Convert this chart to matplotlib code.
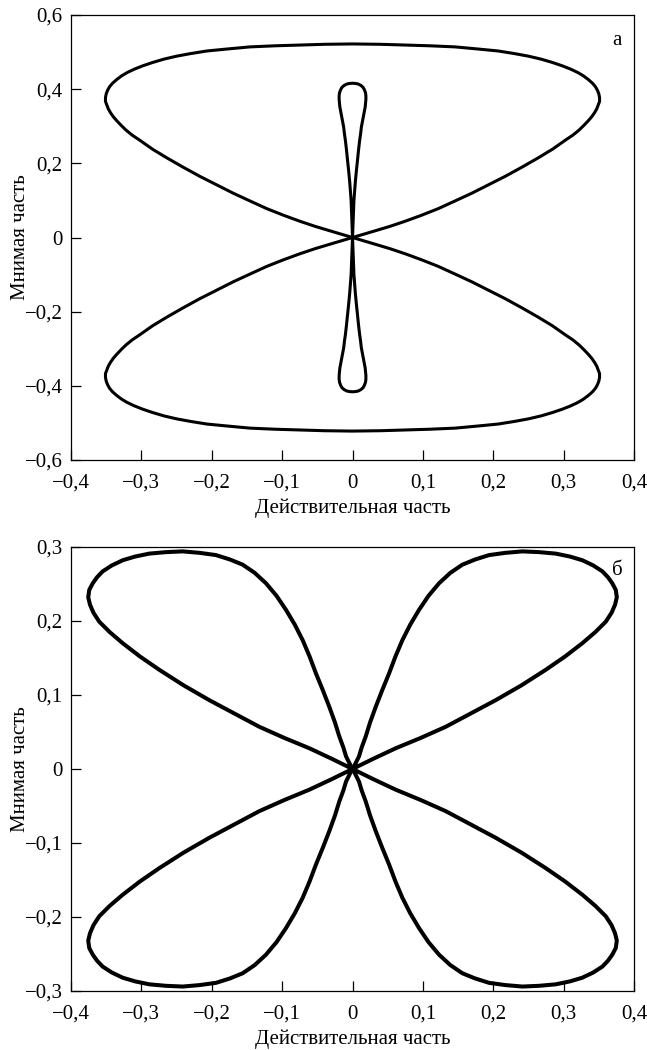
import numpy as np
import matplotlib
matplotlib.use("Agg")
import matplotlib.pyplot as plt

plt.rcParams['font.family'] = ['Liberation Serif', 'DejaVu Serif']
plt.rcParams['font.size'] = 15

# ---- panel a: outer loop, upper-right quarter (origin -> right tip -> top at x=0)
a_outer_x = [0.0, 0.016, 0.032, 0.053, 0.075, 0.098, 0.122, 0.145, 0.169, 0.193,
             0.217, 0.241, 0.264, 0.284, 0.302, 0.313, 0.322, 0.329, 0.335, 0.340,
             0.344, 0.347, 0.349, 0.351, 0.351, 0.350, 0.348, 0.345, 0.341, 0.335,
             0.328, 0.320, 0.310, 0.298, 0.284, 0.268, 0.250, 0.230, 0.207, 0.180,
             0.146, 0.110, 0.075, 0.040, 0.0]
a_outer_y = [0.0, 0.009, 0.018, 0.030, 0.044, 0.060, 0.078, 0.098, 0.119, 0.142,
             0.165, 0.190, 0.215, 0.238, 0.262, 0.276, 0.290, 0.303, 0.315, 0.326,
             0.337, 0.347, 0.357, 0.367, 0.377, 0.387, 0.397, 0.407, 0.416, 0.426,
             0.436, 0.445, 0.454, 0.463, 0.472, 0.481, 0.489, 0.496, 0.503, 0.508,
             0.514, 0.517, 0.519, 0.521, 0.522]

# panel a: inner narrow loop, right half of upper loop (origin -> top at x=0)
a_inner_x = [0.0, 0.001, 0.002, 0.004, 0.0055, 0.007, 0.0085, 0.010, 0.0115, 0.0125,
             0.014, 0.015, 0.016, 0.017, 0.018, 0.0185, 0.019, 0.019, 0.0185, 0.017,
             0.015, 0.012, 0.008, 0.004, 0.0]
a_inner_y = [0.0, 0.05, 0.10, 0.15, 0.18, 0.207, 0.235, 0.26, 0.28, 0.297,
             0.312, 0.322, 0.332, 0.342, 0.352, 0.362, 0.372, 0.382, 0.390, 0.398,
             0.405, 0.410, 0.414, 0.4155, 0.416]

# ---- panel b: one lobe (upper-right), starting and ending at the origin
b_lobe_x = [0.0, 0.030, 0.0614, 0.097, 0.1324, 0.168, 0.2035, 0.240, 0.2745, 0.302,
            0.3266, 0.345, 0.3598, 0.368, 0.373, 0.3755, 0.374, 0.369, 0.363, 0.355,
            0.342, 0.3266, 0.309, 0.2887, 0.265, 0.2413, 0.217, 0.194, 0.174, 0.156,
            0.139, 0.123, 0.108, 0.0945, 0.082, 0.0708, 0.061, 0.0519, 0.042, 0.033,
            0.025, 0.0188, 0.013, 0.0092, 0.004, 0.0]
b_lobe_y = [0.0, 0.014, 0.028, 0.042, 0.057, 0.075, 0.093, 0.113, 0.134, 0.152,
            0.170, 0.185, 0.199, 0.211, 0.222, 0.232, 0.242, 0.251, 0.259, 0.267,
            0.275, 0.282, 0.287, 0.291, 0.293, 0.294, 0.292, 0.289, 0.283, 0.276,
            0.265, 0.251, 0.234, 0.215, 0.195, 0.174, 0.152, 0.129, 0.106, 0.084,
            0.063, 0.044, 0.029, 0.017, 0.007, 0.0]

a_xticks = [-0.4, -0.3, -0.2, -0.1, 0, 0.1, 0.2, 0.3, 0.4]
a_xlabels = ['−0,4', '−0,3', '−0,2', '−0,1', '0', '0,1', '0,2', '0,3', '0,4']
a_yticks = [-0.6, -0.4, -0.2, 0, 0.2, 0.4, 0.6]
a_ylabels = ['−0,6', '−0,4', '−0,2', '0', '0,2', '0,4', '0,6']
b_yticks = [-0.3, -0.2, -0.1, 0, 0.1, 0.2, 0.3]
b_ylabels = ['−0,3', '−0,2', '−0,1', '0', '0,1', '0,2', '0,3']

xlab = 'Действительная часть'
ylab = 'Мнимая часть'


def mirror_loop(qx, qy):
    # upper loop from a quarter: right side then left side reversed
    qx = np.array(qx); qy = np.array(qy)
    x = np.concatenate([qx, -qx[::-1][1:]])
    y = np.concatenate([qy, qy[::-1][1:]])
    return x, y


def style_axes(ax, yt, yl):
    ax.set_xlim(-0.4, 0.4)
    ax.set_xticks(a_xticks)
    ax.set_xticklabels(a_xlabels)
    ax.set_yticks(yt)
    ax.set_yticklabels(yl)
    ax.set_ylim(yt[0], yt[-1])
    ax.tick_params(direction='in', length=7.5, width=0.9, top=False, right=False)
    ax.tick_params(axis='x', pad=10)
    ax.tick_params(axis='y', pad=6)
    for s in ax.spines.values():
        s.set_linewidth(0.9)
    ax.set_xlabel(xlab, labelpad=4)
    ax.set_ylabel(ylab)
    ax.yaxis.set_label_coords(-0.072, 0.5)


fig = plt.figure(figsize=(6.47, 10.5), dpi=100)
ax1 = fig.add_axes([0.1097, 0.5619, 0.8703, 0.4238])
ax2 = fig.add_axes([0.1097, 0.0562, 0.8703, 0.4229])

# panel a
ux, uy = mirror_loop(a_outer_x, a_outer_y)
ax1.plot(ux, uy, color='black', lw=2.2, solid_joinstyle='round')
ax1.plot(ux, -uy, color='black', lw=2.2, solid_joinstyle='round')
ix, iy = mirror_loop(a_inner_x, a_inner_y)
ax1.plot(ix, iy, color='black', lw=2.2, solid_joinstyle='round')
ax1.plot(ix, -iy, color='black', lw=2.2, solid_joinstyle='round')
style_axes(ax1, a_yticks, a_ylabels)
ax1.text(0.376, 0.53, 'а', ha='center', va='center')

# panel b
bx = np.array(b_lobe_x); by = np.array(b_lobe_y)
for sx, sy in [(1, 1), (-1, 1), (1, -1), (-1, -1)]:
    ax2.plot(sx * bx, sy * by, color='black', lw=2.9, solid_joinstyle='round')
style_axes(ax2, b_yticks, b_ylabels)
ax2.text(0.376, 0.268, 'б', ha='center', va='center')

fig.savefig('out.png', dpi=100)
